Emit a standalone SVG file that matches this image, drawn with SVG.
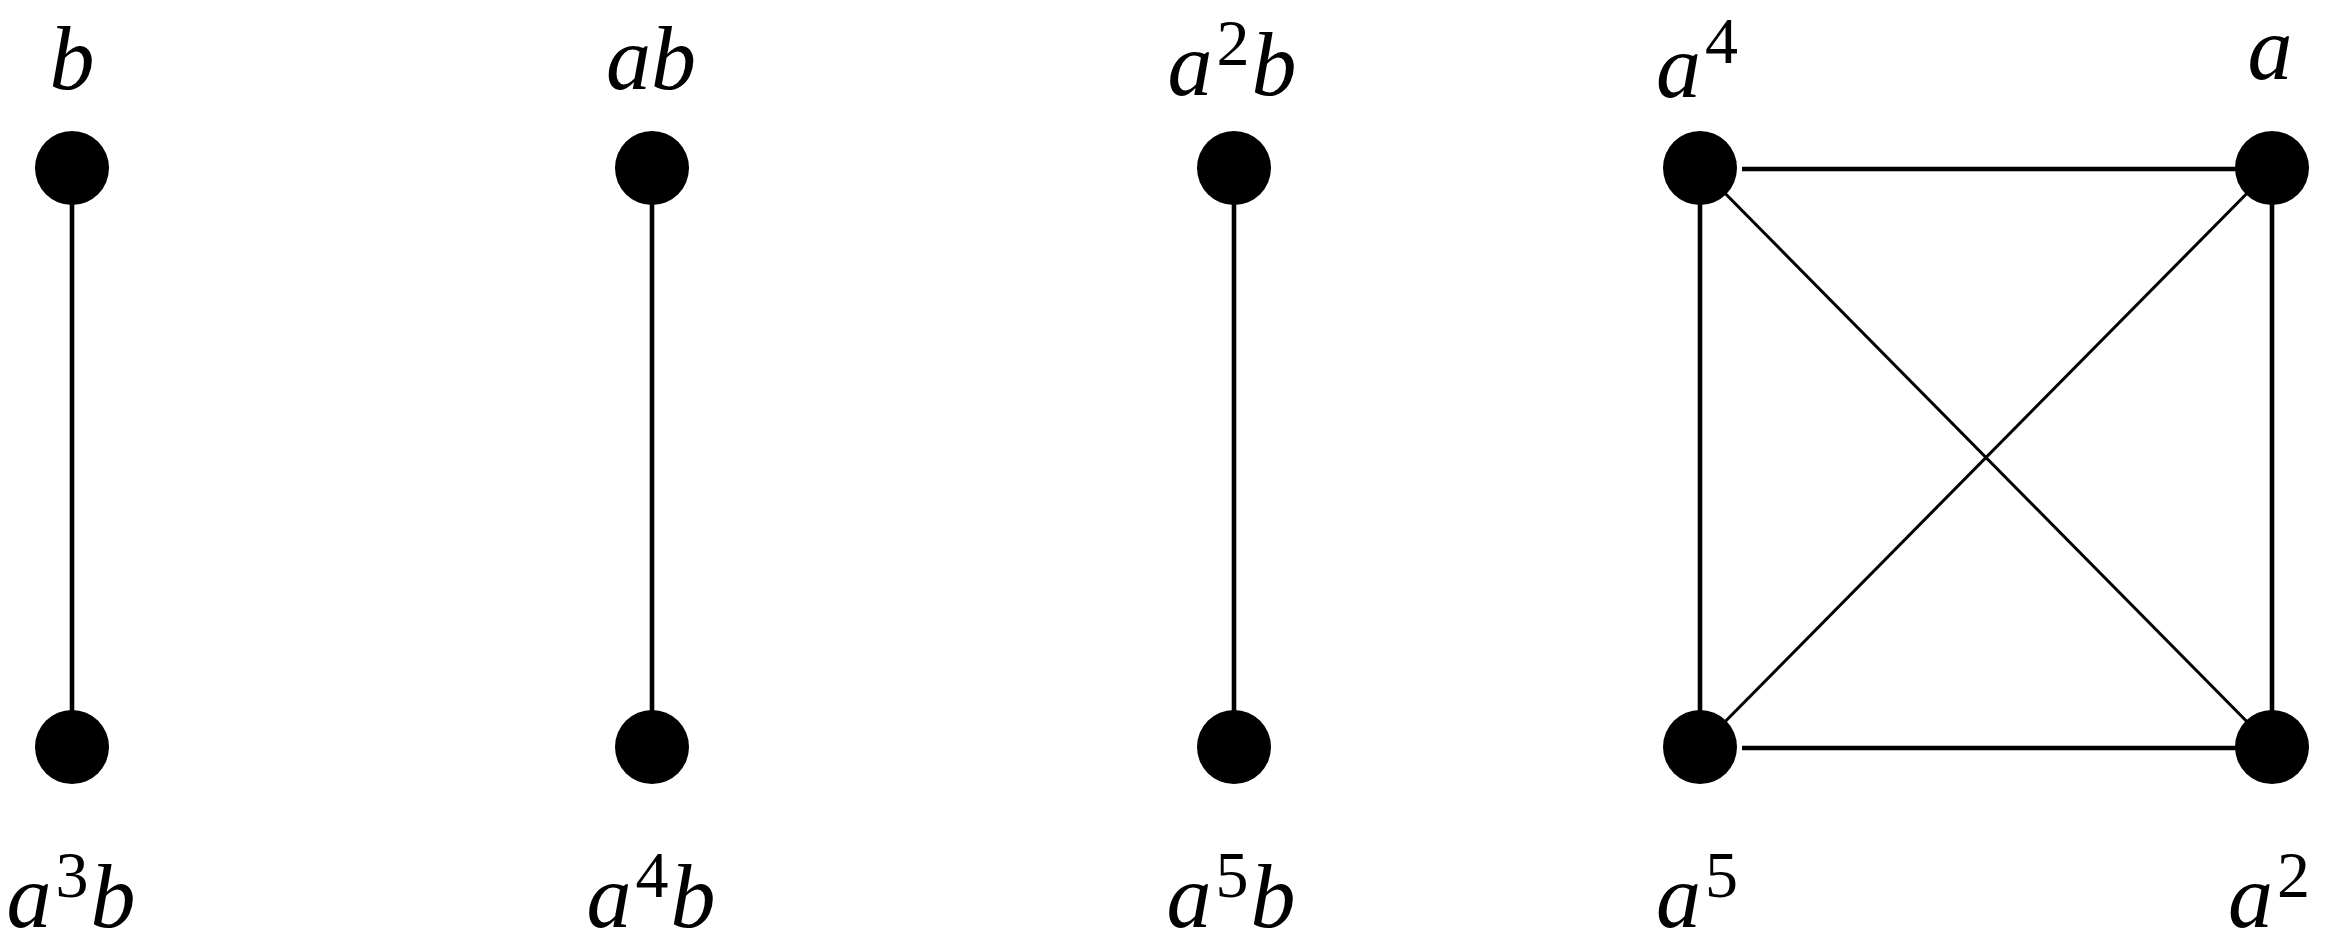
<svg xmlns="http://www.w3.org/2000/svg" width="2334" height="952" viewBox="0 0 2334 952">
<style>
.node{fill:#000}
.e{stroke:#000;stroke-width:4.6;fill:none}
.d{stroke:#000;stroke-width:3;fill:none}
.lbl{font-family:"Liberation Serif","Times New Roman",serif;font-style:italic;font-size:90px;fill:#000;text-anchor:middle}
.sup{font-style:normal;font-size:66px}
</style>
<rect width="2334" height="952" fill="#fff"/>
<g id="connectors">
<line class="e" x1="72" y1="168" x2="72" y2="747"/>
<line class="e" x1="652" y1="168" x2="652" y2="747"/>
<line class="e" x1="1234" y1="168" x2="1234" y2="747"/>
<line class="e" x1="1742" y1="169" x2="2272" y2="169"/>
<line class="e" x1="1742" y1="748" x2="2272" y2="748"/>
<line class="e" x1="1700" y1="168" x2="1700" y2="747"/>
<line class="e" x1="2272" y1="168" x2="2272" y2="747"/>
<line class="d" x1="1700" y1="168" x2="2272" y2="747"/>
<line class="d" x1="2272" y1="168" x2="1700" y2="747"/>
</g>
<g id="n-b"><circle class="node" cx="72" cy="168" r="37"/><text class="lbl" x="72" y="89">b</text></g>
<g id="n-a3b"><circle class="node" cx="72" cy="747" r="37"/><text class="lbl" x="71" y="927">a<tspan class="sup" dx="4" dy="-30">3</tspan><tspan dx="2" dy="30">b</tspan></text></g>
<g id="n-ab"><circle class="node" cx="652" cy="168" r="37"/><text class="lbl" x="651" y="89">ab</text></g>
<g id="n-a4b"><circle class="node" cx="652" cy="747" r="37"/><text class="lbl" x="651" y="927">a<tspan class="sup" dx="4" dy="-30">4</tspan><tspan dx="2" dy="30">b</tspan></text></g>
<g id="n-a2b"><circle class="node" cx="1234" cy="168" r="37"/><text class="lbl" x="1232" y="95">a<tspan class="sup" dx="4" dy="-30">2</tspan><tspan dx="2" dy="30">b</tspan></text></g>
<g id="n-a5b"><circle class="node" cx="1234" cy="747" r="37"/><text class="lbl" x="1231" y="927">a<tspan class="sup" dx="4" dy="-30">5</tspan><tspan dx="2" dy="30">b</tspan></text></g>
<g id="n-a4"><circle class="node" cx="1700" cy="168" r="37"/><text class="lbl" x="1697" y="97">a<tspan class="sup" dx="4" dy="-34">4</tspan></text></g>
<g id="n-a"><circle class="node" cx="2272" cy="168" r="37"/><text class="lbl" x="2270" y="79">a</text></g>
<g id="n-a5"><circle class="node" cx="1700" cy="747" r="37"/><text class="lbl" x="1697" y="927">a<tspan class="sup" dx="4" dy="-30">5</tspan></text></g>
<g id="n-a2"><circle class="node" cx="2272" cy="747" r="37"/><text class="lbl" x="2269" y="927">a<tspan class="sup" dx="4" dy="-30">2</tspan></text></g>
</svg>
